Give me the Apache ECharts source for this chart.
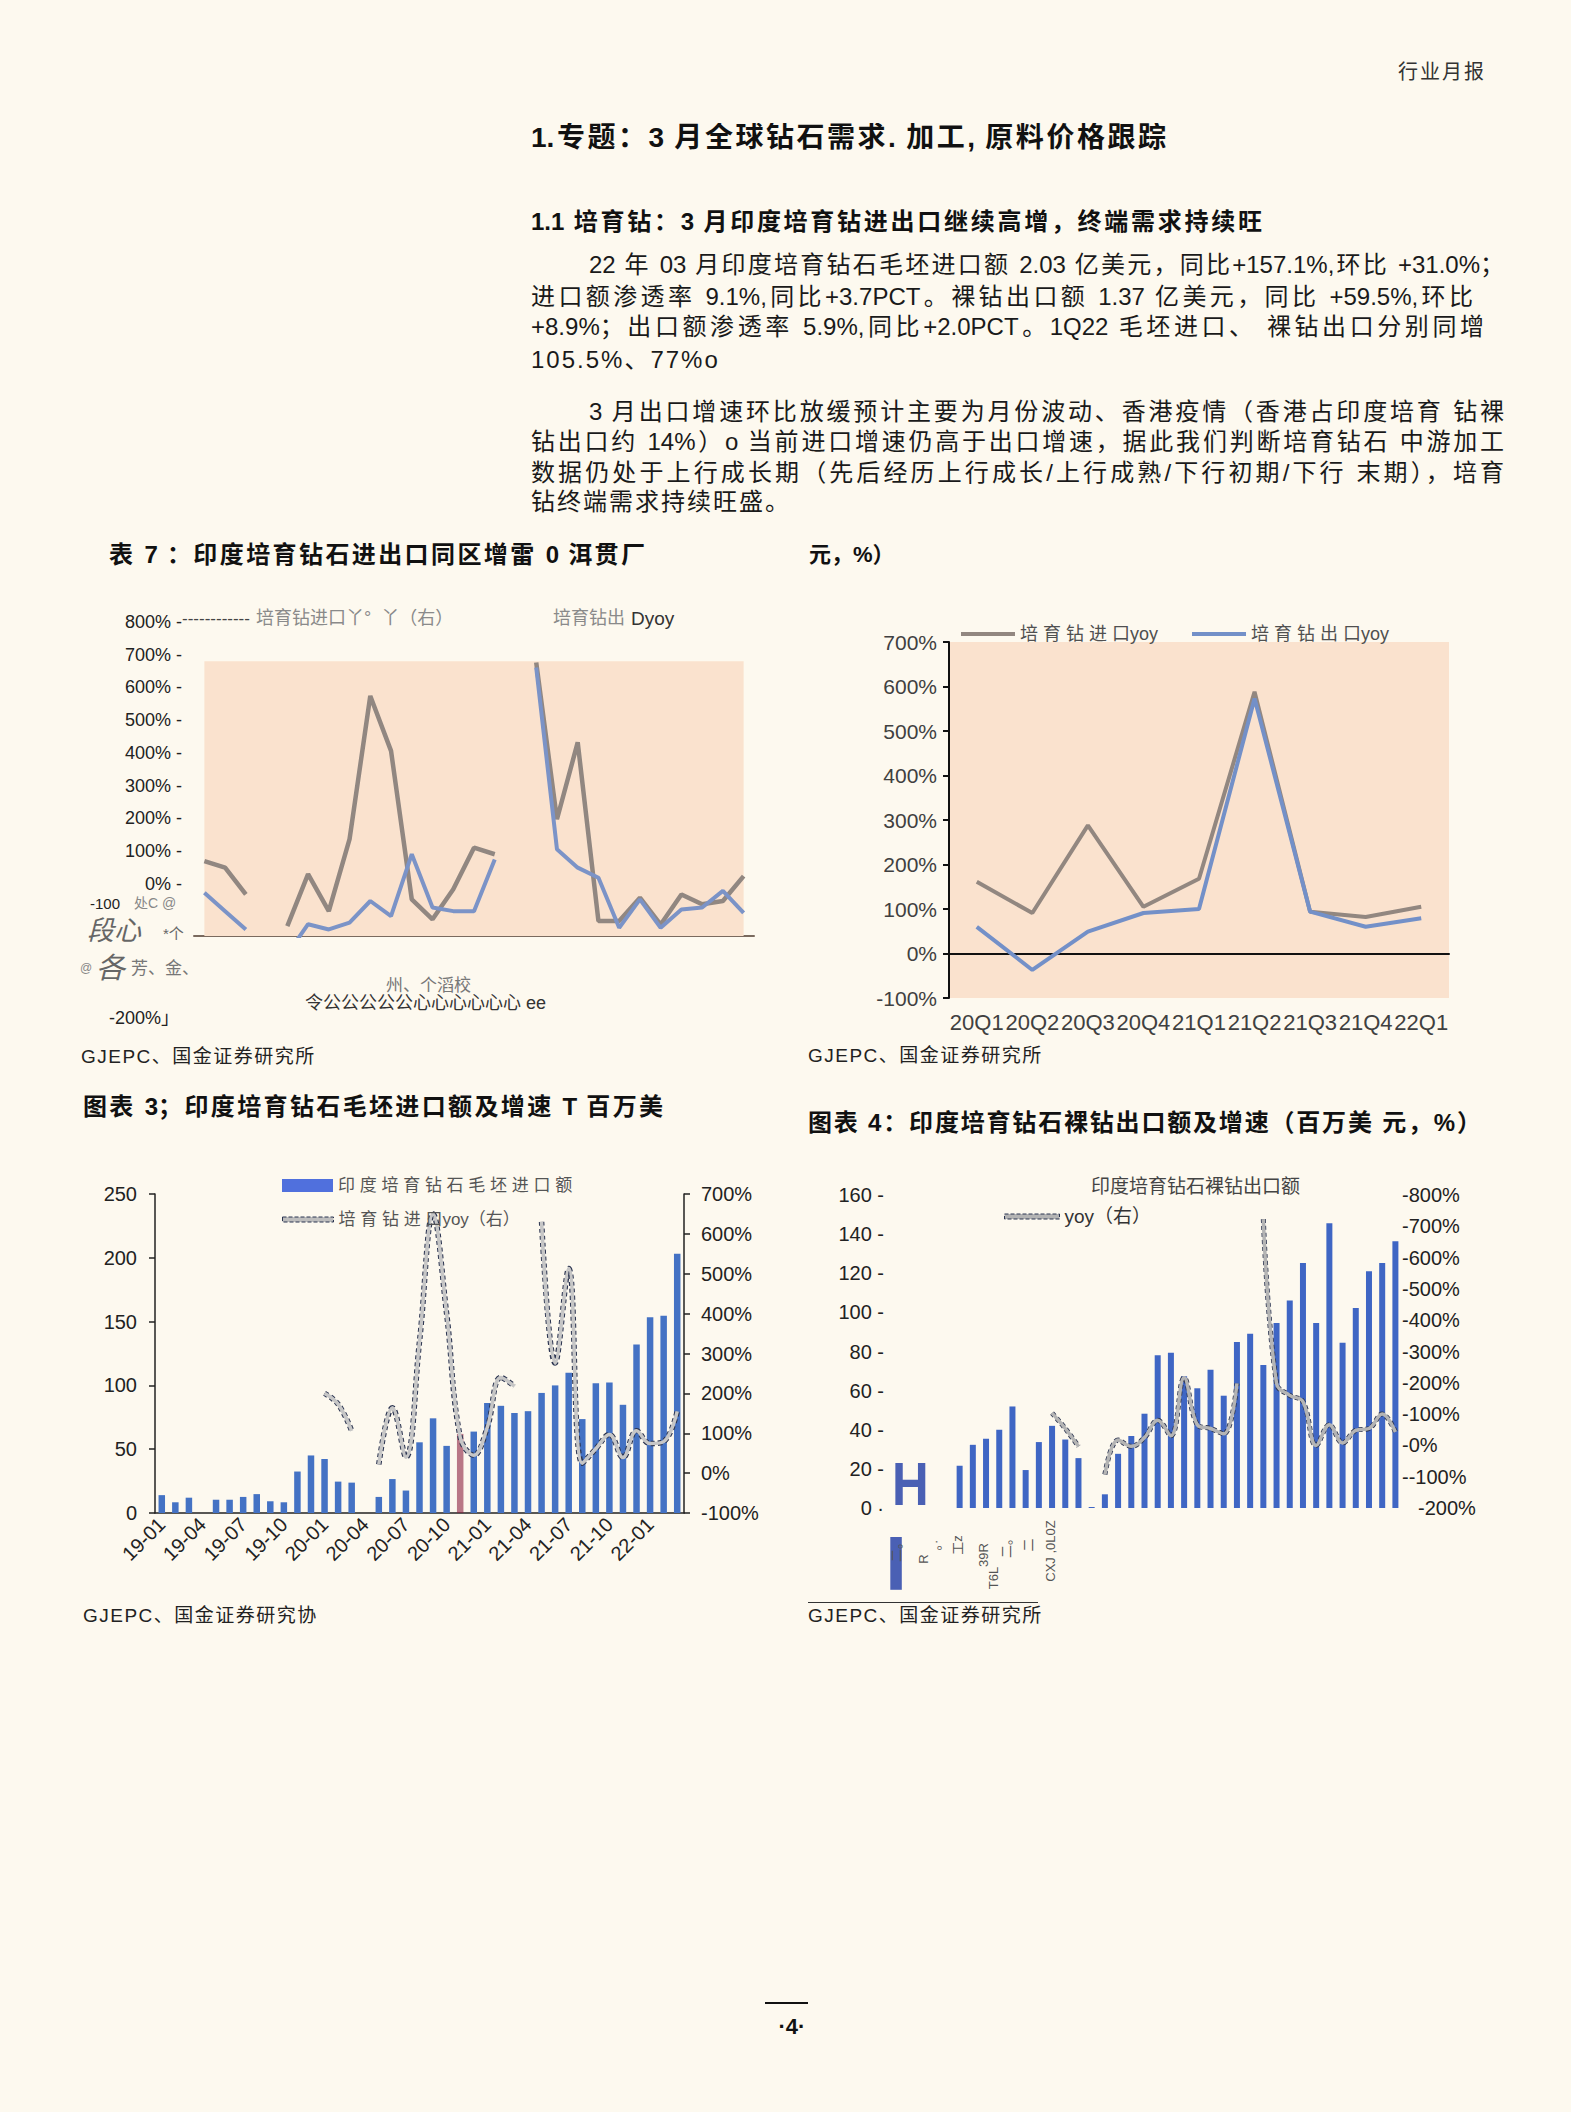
<!DOCTYPE html>
<html lang="zh-CN"><head><meta charset="utf-8">
<script src="https://cdn.jsdelivr.net/npm/echarts@6/dist/echarts.min.js"></script>
<style>
html,body{margin:0;padding:0;background:#FDF9EF;}
#page{position:relative;width:1571px;height:2112px;overflow:hidden;background:#FDF9EF;}
#chart{position:absolute;left:0;top:0;width:1571px;height:2112px;}
.t{position:absolute;font-family:"Liberation Sans","Noto Sans CJK SC",sans-serif;color:#1a1a1a;white-space:nowrap;}
.j{white-space:normal;text-align:justify;text-align-last:justify;height:28px;overflow:hidden;}
.b{font-weight:bold;color:#111;}
.p{font-size:24px;line-height:26px;}
.s{font-size:19px;line-height:20px;letter-spacing:1.5px;color:#222;}
</style></head>
<body><div id="page"><div id="chart"></div>
<div class="t" style="left:1398px;top:61px;font-size:20px;line-height:22px;letter-spacing:2px;color:#333">行业月报</div>
<div class="t j b" style="left:531px;top:123px;width:635px;font-size:28px;line-height:30px;height:32px">1.专题：3 月全球钻石需求. 加工, 原料价格跟踪</div>
<div class="t j b" style="left:531px;top:209px;width:731px;font-size:24px;line-height:26px">1.1 培育钻：3 月印度培育钻进出口继续高增，终端需求持续旺</div>
<div class="t j p" style="left:589px;top:252px;width:915px">22 年 03 月印度培育钻石毛坯进口额 2.03 亿美元，同比+157.1%,环比 +31.0%；</div>
<div class="t j p" style="left:531px;top:284px;width:942px">进口额渗透率 9.1%,同比+3.7PCT。裸钻出口额 1.37 亿美元，同比 +59.5%,环比</div>
<div class="t j p" style="left:531px;top:314px;width:953px">+8.9%；出口额渗透率 5.9%,同比+2.0PCT。1Q22 毛坯进口、 裸钻出口分别同增</div>
<div class="t p" style="left:531px;top:347px;letter-spacing:2px">105.5%、77%o</div>
<div class="t j p" style="left:589px;top:399px;width:915px">3 月出口增速环比放缓预计主要为月份波动、香港疫情（香港占印度培育 钻裸</div>
<div class="t j p" style="left:531px;top:429px;width:973px">钻出口约 14%）o 当前进口增速仍高于出口增速，据此我们判断培育钻石 中游加工</div>
<div class="t j p" style="left:531px;top:460px;width:973px">数据仍处于上行成长期（先后经历上行成长/上行成熟/下行初期/下行 末期），培育</div>
<div class="t p" style="left:531px;top:489px;letter-spacing:2px">钻终端需求持续旺盛。</div>

<div class="t j b" style="left:109px;top:542px;width:536px;font-size:24px;line-height:26px">表 7 ：印度培育钻石进出口同区增雷 0 洱贯厂</div>
<div class="t b" style="left:809px;top:543px;font-size:22px;line-height:24px">元，%）</div>
<div class="t s" style="left:81px;top:1047px">GJEPC、国金证券研究所</div>
<div class="t s" style="left:808px;top:1046px">GJEPC、国金证券研究所</div>

<div class="t j b" style="left:83px;top:1094px;width:580px;font-size:24px;line-height:26px">图表 3；印度培育钻石毛坯进口额及增速 T 百万美</div>
<div class="t j b" style="left:808px;top:1110px;width:673px;font-size:24px;line-height:26px">图表 4：印度培育钻石裸钻出口额及增速（百万美 元，%）</div>
<div class="t s" style="left:83px;top:1606px">GJEPC、国金证券研究协</div>
<div style="position:absolute;left:808px;top:1602px;width:230px;height:1px;background:#333"></div>
<div class="t s" style="left:808px;top:1606px">GJEPC、国金证券研究所</div>

<div style="position:absolute;left:765px;top:2002px;width:43px;height:2px;background:#111"></div>
<div class="t b" style="left:762px;top:2015px;width:60px;text-align:center;font-size:22px;line-height:24px">·4·</div>
</div>
<script>
// ---- data ----
const c1Months = ['20-01','20-02','20-03','20-04','20-05','20-06','20-07','20-08','20-09','20-10','20-11','20-12','21-01','21-02','21-03','21-04','21-05','21-06','21-07','21-08','21-09','21-10','21-11','21-12','22-01','22-02','22-03'];
const c1Import = [69, 49, -33, null, -130, 29, -84, 136, 574, 406, -48, -109, -17, 110, 90, null, 676, 197, 432, -114, -114, -43, -125, -33, -63, -53, 23];
const c1Export = [-28, -84, -140, null, -215, -124, -140, -119, -53, -99, 90, -73, -84, -84, 74, null, 661, 105, 49, 18, -135, -48, -135, -79, -73, -22, -89];
const c1YTicks = [0, 100, 200, 300, 400, 500, 600, 700, 800];

const c2Quarters = ['20Q1','20Q2','20Q3','20Q4','21Q1','21Q2','21Q3','21Q4','22Q1'];
const c2Import = [161, 91, 288, 105, 168, 588, 94, 82, 105];
const c2Export = [60, -37, 49, 91, 100, 573, 94, 60, 79];

const months = ['19-01','19-02','19-03','19-04','19-05','19-06','19-07','19-08','19-09','19-10','19-11','19-12',
 '20-01','20-02','20-03','20-04','20-05','20-06','20-07','20-08','20-09','20-10','20-11','20-12',
 '21-01','21-02','21-03','21-04','21-05','21-06','21-07','21-08','21-09','21-10','21-11','21-12',
 '22-01','22-02','22-03'];
const c3Import = [14.0, 8.4, 12.0, null, 10.4, 10.4, 12.6, 14.8, 9.2, 8.4, 32.5, 45.1, 42.3, 24.6, 23.8, null, 12.6, 26.6, 17.6, 55.4, 74.2, 52.6, 62, 63.8, 86.2, 84.0, 78.4, 79.8, 94.1, 100, 110, 73.6, 101.6, 102.2, 84.8, 132.1, 153.4, 154.5, 203.2];
const c3Yoy = [null,null,null,null,null,null,null,null,null,null,null,null, 200, 173, 106, null, 22, 164, 40, 330, 650, 400, 90, 45, 115, 240, 218, null, 630, 276, 513, 25, 61, 97, 39, 106, 74, 79, 155];
const c4Export = [null,null,null,null,null, 21.6, 32.3, 35.4, 40.0, 51.9, 19.4, 33.7, 42.0, 35.0, 25.5, 0.5, 7.0, 27.7, 36.8, 48.2, 78.1, 79.4, 67.4, 61.2, 70.7, 57.4, 84.9, 89.1, 73.1, 94.6, 106.1, 125.2, 94.6, 145.5, 84.5, 102.3, 121.0, 125.2, 136.4];
const c4Yoy = [null,null,null,null,null,null,null,null,null,null,null,null, 103, 54, -3, null, -93, 17, -3, 25, 80, 31, 216, 66, 54, 37, 198, null, 723, 198, 160, 140, 0, 66, 8, 48, 54, 100, 43];

// ---- chart ----
const FONT = '"Liberation Sans","Noto Sans CJK SC",sans-serif';
const spaced = n => n.replace(/([\u4e00-\u9fff])(?=[\u4e00-\u9fff])/g, '$1 ');
const chart = echarts.init(document.getElementById('chart'), null, {renderer: 'svg'});
const txt = (x, y, text, size, fill, style) => ({type: 'text', x: x, y: y, silent: true,
  style: {text: text, fill: fill, font: (style || '') + size + 'px ' + FONT, verticalAlign: 'middle', textAlign: 'left'}});
const vtxt = (x, y, text) => ({type: 'text', x: x, y: y, rotation: Math.PI / 2, silent: true,
  style: {text: text, fill: '#555', font: '13px ' + FONT, verticalAlign: 'middle', textAlign: 'center'}});

const PEACH = '#FAE2CE';
const DARK = '#2b3450';
const yoyLegendStyle = {borderColor: DARK, borderWidth: 1, borderType: 'dashed'};
const option = {
  animation: false,
  textStyle: {fontFamily: FONT},
  grid: [
    {left: 194, top: 622, width: 560, height: 314},
    {left: 949, top: 642, width: 500, height: 356, show: true, backgroundColor: PEACH, borderWidth: 0},
    {left: 155, top: 1194, width: 529, height: 319},
    {left: 887, top: 1195, width: 515, height: 313}
  ],
  xAxis: [
    {gridIndex: 0, type: 'category', data: c1Months,
     axisLine: {onZero: false, lineStyle: {color: '#7a6a5e', width: 2}},
     axisTick: {interval: 1, length: 7, lineStyle: {color: '#7a6a5e', width: 2}},
     axisLabel: {show: false}},
    {gridIndex: 1, type: 'category', data: c2Quarters,
     axisLine: {lineStyle: {color: '#111', width: 2}},
     axisTick: {length: 7, lineStyle: {color: '#111', width: 2}},
     axisLabel: {interval: 0, fontSize: 22, color: '#404040', margin: 13, fontFamily: FONT}},
    {gridIndex: 2, type: 'category', data: months,
     axisLine: {lineStyle: {color: '#222', width: 1.5}},
     axisTick: {interval: 2, length: 6, lineStyle: {color: '#222', width: 1.5}},
     axisLabel: {interval: 2, rotate: 45, fontSize: 20, color: '#222', margin: 8, fontFamily: FONT}},
    {gridIndex: 3, type: 'category', data: months,
     axisLine: {show: false}, axisTick: {show: false}, axisLabel: {show: false}}
  ],
  yAxis: [
    {gridIndex: 0, type: 'value', min: -160, max: 800,
     axisLine: {show: false}, axisTick: {show: false}, splitLine: {show: false},
     axisLabel: {customValues: c1YTicks, formatter: v => v + '% -', fontSize: 18, color: '#222', margin: 12, fontFamily: FONT}},
    {gridIndex: 1, type: 'value', min: -100, max: 700, interval: 100,
     axisLine: {show: true, lineStyle: {color: '#111', width: 2}},
     axisTick: {show: true, length: 6, lineStyle: {color: '#111', width: 2}}, splitLine: {show: false},
     axisLabel: {formatter: '{value}%', fontSize: 21, color: '#404040', margin: 12, fontFamily: FONT}},
    {gridIndex: 2, type: 'value', min: 0, max: 250, interval: 50,
     axisLine: {show: true, lineStyle: {color: '#222', width: 1.5}},
     axisTick: {show: true, length: 6, lineStyle: {color: '#222', width: 1.5}}, splitLine: {show: false},
     axisLabel: {fontSize: 20, color: '#222', margin: 18, fontFamily: FONT}},
    {gridIndex: 2, type: 'value', position: 'right', min: -100, max: 700, interval: 100,
     axisLine: {show: true, lineStyle: {color: '#222', width: 1.5}},
     axisTick: {show: true, length: 6, lineStyle: {color: '#222', width: 1.5}}, splitLine: {show: false},
     axisLabel: {formatter: '{value}%', fontSize: 20, color: '#222', margin: 17, fontFamily: FONT}},
    {gridIndex: 3, type: 'value', min: 0, max: 160, interval: 20,
     axisLine: {show: false}, axisTick: {show: false}, splitLine: {show: false},
     axisLabel: {formatter: v => v === 0 ? '0 ·' : v + ' -', fontSize: 20, color: '#222', margin: 3, fontFamily: FONT}},
    {gridIndex: 3, type: 'value', position: 'right', min: -200, max: 800, interval: 100,
     axisLine: {show: false}, axisTick: {show: false}, splitLine: {show: false},
     axisLabel: {formatter: v => v === -200 ? '{s|-200%}' : (v === -100 ? '--100%' : '-' + v + '%'),
       rich: {s: {padding: [0, 0, 0, 16], fontSize: 20, color: '#222', fontFamily: FONT}},
       fontSize: 20, color: '#222', margin: 0, fontFamily: FONT}}
  ],
  legend: [
    {data: ['培育钻进口yoy', '培育钻出口yoy'], icon: 'rect', left: 956, top: 620, itemWidth: 54, itemHeight: 4, itemGap: 34,
     formatter: spaced, textStyle: {fontSize: 18, color: '#505050', fontFamily: FONT}},
    {data: ['印度培育钻石毛坯进口额'], icon: 'rect', left: 277, top: 1172, itemWidth: 51, itemHeight: 13,
     formatter: spaced, textStyle: {fontSize: 17, color: '#555', fontFamily: FONT}},
    {data: ['培育钻进口yoy（右）'], icon: 'rect', left: 277, top: 1206, itemWidth: 51, itemHeight: 5,
     itemStyle: yoyLegendStyle, formatter: spaced, textStyle: {fontSize: 17, color: '#555', fontFamily: FONT}},
    {data: [{name: '印度培育钻石裸钻出口额', itemStyle: {opacity: 0}}], left: 1061, top: 1172, itemWidth: 20, itemHeight: 12,
     textStyle: {fontSize: 19, color: '#444', fontFamily: FONT}},
    {data: ['yoy（右）'], icon: 'rect', left: 999, top: 1202, itemWidth: 55, itemHeight: 5,
     itemStyle: yoyLegendStyle, textStyle: {fontSize: 19, color: '#333', fontFamily: FONT}}
  ],
  series: [
    {name: '培育钻进口丫° 丫（右）', type: 'line', xAxisIndex: 0, yAxisIndex: 0, data: c1Import, symbol: 'none',
     lineStyle: {color: '#918781', width: 4.5}, itemStyle: {color: '#918781'},
     markArea: {silent: true, itemStyle: {color: PEACH}, data: [[{xAxis: c1Months[0], yAxis: 680}, {xAxis: c1Months[26], yAxis: -190}]]}},
    {name: '培育钻出 Dyoy', type: 'line', xAxisIndex: 0, yAxisIndex: 0, data: c1Export, symbol: 'none',
     lineStyle: {color: '#7b93c7', width: 4}, itemStyle: {color: '#7b93c7'}},
    {name: '培育钻进口yoy', type: 'line', xAxisIndex: 1, yAxisIndex: 1, data: c2Import, symbol: 'none',
     lineStyle: {color: '#928780', width: 4}, itemStyle: {color: '#928780'}},
    {name: '培育钻出口yoy', type: 'line', xAxisIndex: 1, yAxisIndex: 1, data: c2Export, symbol: 'none',
     lineStyle: {color: '#7390c8', width: 4}, itemStyle: {color: '#7390c8'}},
    {name: '印度培育钻石毛坯进口额', type: 'bar', xAxisIndex: 2, yAxisIndex: 2, data: c3Import, barWidth: 6.5,
     itemStyle: {color: p => p.dataIndex === 22 ? 'rgba(140,32,64,0.6)' : '#4472C4'}},
    {name: 'c3under', type: 'line', xAxisIndex: 2, yAxisIndex: 3, data: c3Yoy, symbol: 'none', smooth: 0.4, silent: true,
     lineStyle: {color: DARK, width: 5.5, type: [4, 3]}},
    {name: '培育钻进口yoy（右）', type: 'line', xAxisIndex: 2, yAxisIndex: 3, data: c3Yoy, symbol: 'none', smooth: 0.4,
     lineStyle: {color: '#c6c6c6', width: 3.5}, itemStyle: {color: '#bdbdbd'}},
    {name: '印度培育钻石裸钻出口额', type: 'bar', xAxisIndex: 3, yAxisIndex: 4, data: c4Export, barWidth: 6,
     itemStyle: {color: '#3F66C4'}},
    {name: 'c4under', type: 'line', xAxisIndex: 3, yAxisIndex: 5, data: c4Yoy, symbol: 'none', smooth: 0.4, silent: true,
     lineStyle: {color: DARK, width: 5, type: [4, 3]}},
    {name: 'yoy（右）', type: 'line', xAxisIndex: 3, yAxisIndex: 5, data: c4Yoy, symbol: 'none', smooth: 0.4,
     lineStyle: {color: '#b4b4b4', width: 3.5}, itemStyle: {color: '#b4b4b4'}}
  ],
  graphic: {elements: [
    txt(182, 618, '------------', 17, '#444'),
    txt(256, 618, '培育钻进口丫°  丫（右）', 18, '#8a8a8a'),
    txt(553, 618, '培育钻出', 18, '#8a8a8a'),
    txt(631, 618, 'Dyoy', 19, '#333'),
    txt(90, 903, '-100', 15, '#222'),
    txt(134, 903, '处C @', 14, '#888'),
    txt(87, 931, '段心', 27, '#666', 'italic '),
    txt(163, 933, '*个', 15, '#666'),
    txt(80, 968, '@', 12, '#888'),
    txt(96, 968, '各', 29, '#666', 'italic '),
    txt(131, 968, '芳、金、', 17, '#777'),
    txt(109, 1018, '-200%」', 18, '#222'),
    txt(386, 985, '州、个滔校', 17, '#777'),
    txt(305, 1003, '令公公公公公心心心心心心 ee', 18, '#333'),
    {type: 'text', x: 892, y: 1484, scaleX: 0.82, silent: true,
     style: {text: 'H', fill: '#4a60b4', font: 'bold 62px ' + FONT, verticalAlign: 'middle', textAlign: 'left'}},
    {type: 'text', x: 896, y: 1558, scaleX: 1.6, silent: true,
     style: {text: '|', fill: '#4a60b4', font: 'bold 56px ' + FONT, verticalAlign: 'middle', textAlign: 'center'}},
    vtxt(896, 1549, '二。'),
    vtxt(923, 1559, 'R'),
    vtxt(935, 1545, '。·'),
    vtxt(957, 1545, '工z'),
    vtxt(983, 1555, '39R'),
    vtxt(993, 1578, 'T6L'),
    vtxt(1006, 1545, '二。'),
    vtxt(1028, 1545, '二'),
    vtxt(1050, 1551, 'CXJ ,0L0Z')
  ]}
};
chart.setOption(option);
</script>
</body></html>
